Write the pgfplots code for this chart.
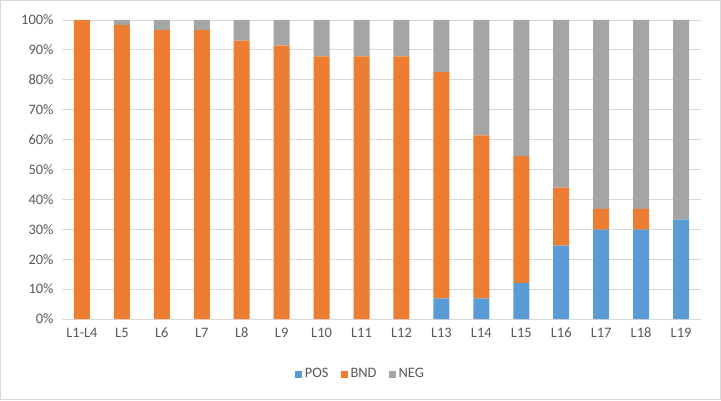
\documentclass[border=0pt]{standalone}
\usepackage{pgfplots}
\pgfplotsset{compat=1.18}
\usepackage{fontspec}
\setmainfont{Carlito}
\definecolor{posc}{RGB}{91,155,213}
\definecolor{bndc}{RGB}{237,125,49}
\definecolor{negc}{RGB}{165,165,165}
\definecolor{gridc}{RGB}{217,217,217}
\definecolor{txtc}{RGB}{89,89,89}
\begin{document}
\begin{tikzpicture}[x=1bp,y=1bp]
\begin{axis}[
  name=main,
  at={(62bp,81bp)}, anchor=south west,
  scale only axis, width=639bp, height=299bp,
  ybar stacked, bar width=16bp,
  xmin=-0.5, xmax=15.5, ymin=0, ymax=100,
  xtick=data,
  xticklabels={L1-L4,L5,L6,L7,L8,L9,L10,L11,L12,L13,L14,L15,L16,L17,L18,L19},
  ytick={0,10,...,100},
  yticklabel={\pgfmathprintnumber{\tick}\%},
  /pgf/number format/assume math mode=true,
  ymajorgrids, grid style={gridc, line width=0.9bp},
  axis x line*=bottom, axis y line*=left,
  x axis line style={gridc, line width=0.9bp, -},
  y axis line style={draw=none},
  major tick length=0pt,
  tick label style={font=\fontsize{14.5}{17}\selectfont, text=txtc},
  xticklabel style={yshift=-5bp, text height=10bp, text depth=0bp},
  yticklabel style={xshift=-5bp},
  legend style={at={(0.467,-55bp)}, anchor=center, draw=none, legend columns=-1,
    font=\fontsize{14.5}{17}\selectfont, text=txtc,
    /tikz/every odd column/.append style={column sep=1bp},
    /tikz/every even column/.append style={column sep=10bp}},
  legend image code/.code={\fill[#1] (0bp,-3.5bp) rectangle (7bp,3.5bp);},
]
\addplot[fill=posc, draw=none] coordinates {
 (0,0) (1,0) (2,0) (3,0) (4,0) (5,0) (6,0) (7,0) (8,0)
 (9,6.9) (10,6.9) (11,12.1) (12,24.5) (13,29.9) (14,29.9) (15,33.2)};
\addplot[fill=bndc, draw=none] coordinates {
 (0,100) (1,98.3) (2,96.6) (3,96.6) (4,93.1) (5,91.4) (6,87.8) (7,87.8) (8,87.8)
 (9,75.7) (10,54.5) (11,42.4) (12,19.4) (13,6.9) (14,6.9) (15,0)};
\addplot[fill=negc, draw=none] coordinates {
 (0,0) (1,1.7) (2,3.4) (3,3.4) (4,6.9) (5,8.6) (6,12.2) (7,12.2) (8,12.2)
 (9,17.4) (10,38.6) (11,45.5) (12,56.1) (13,63.2) (14,63.2) (15,66.8)};
\legend{POS,BND,NEG}
\end{axis}
\draw[gridc, line width=1bp] (0.5,0.5) rectangle (720.5,399.5);
\end{tikzpicture}
\end{document}
